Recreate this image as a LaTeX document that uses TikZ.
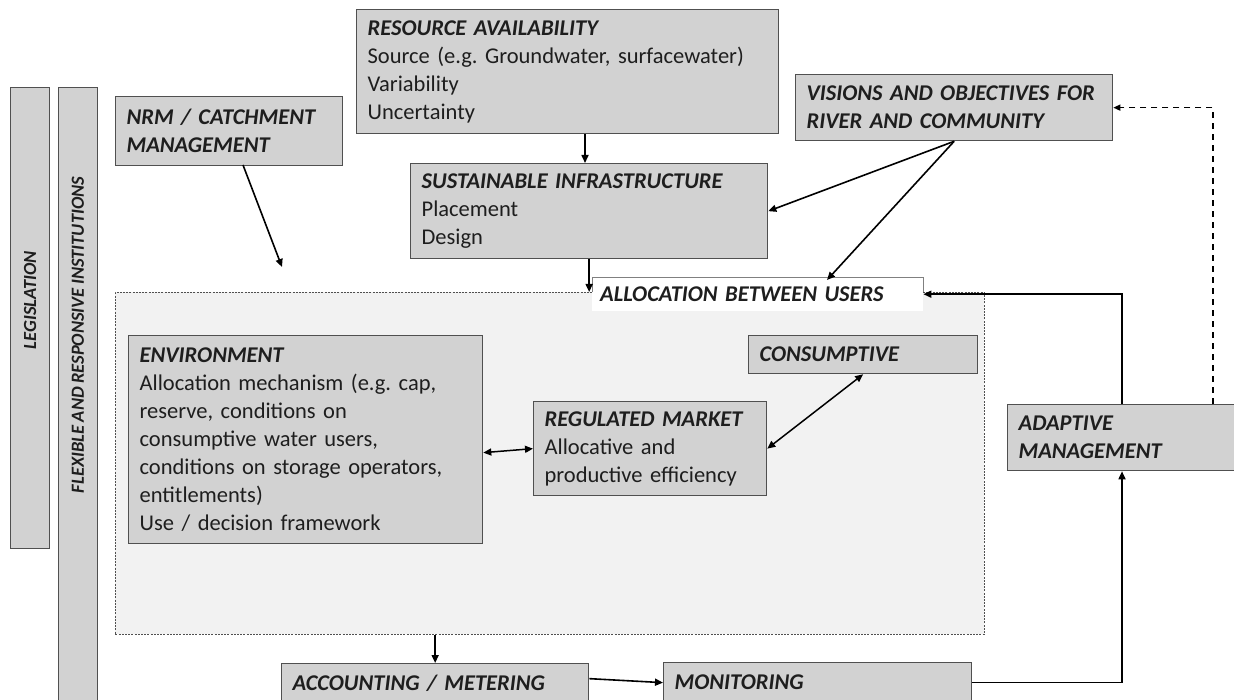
\documentclass[tikz,border=0pt]{standalone}
\usepackage{fontspec}
\setmainfont{Carlito}[WordSpace=0.8]
\usetikzlibrary{arrows.meta,calc}
\definecolor{boxfill}{HTML}{D2D2D2}
\definecolor{boxline}{HTML}{505050}
\definecolor{regfill}{HTML}{F2F2F2}
\definecolor{txt}{HTML}{1E1E1E}
\newcommand{\boxtitle}[1]{\textbf{\textit{#1}}}
\frenchspacing
\begin{document}
\begin{tikzpicture}[x=1pt,y=-1pt,
  box/.style={draw=boxline, fill=boxfill, line width=1.3pt, anchor=north west, text=txt,
    inner xsep=10pt, inner ysep=2pt, align=left, font=\fontsize{22.5}{28}\selectfont},
  bar/.style={draw=boxline, fill=boxfill, line width=1.3pt, anchor=north west, inner sep=0pt},
  bartext/.style={rotate=90, text=txt, font=\fontsize{18.5}{20}\selectfont\bfseries\itshape},
  arr/.style={line width=1.6pt, -{Triangle[length=8pt,width=7pt]}},
  dbl/.style={line width=1.5pt, {Triangle[length=8pt,width=7pt]}-{Triangle[length=8pt,width=7pt]}},
  darr/.style={line width=1.4pt, dash pattern=on 6pt off 5pt, -{Triangle[length=7pt,width=6pt]}}
]
\useasboundingbox (0,0) rectangle (1234,700);
\clip (0,0) rectangle (1234,700);
\fill[white] (0,0) rectangle (1234,700);

% side bars
\node[bar, minimum width=39pt, minimum height=461pt] (leg) at (10,87) {};
\node[bartext] (legt) at (30,300) {LEGISLATION};
\node[bar, minimum width=39pt, minimum height=620pt] (flex) at (58,87) {};
\node[bartext] (flext) at (78,335) {FLEXIBLE AND RESPONSIVE INSTITUTIONS};

% dashed region
\node[draw=boxline, fill=regfill, line width=0.8pt, dash pattern=on 2pt off 1.2pt,
  anchor=north west, minimum width=869pt, minimum height=342pt, inner sep=0pt] (region) at (115,292) {};

% label box
\node[fill=white, anchor=north west, minimum width=331pt, minimum height=34pt, text=txt,
  inner xsep=8pt, inner ysep=0pt, text width=315pt, align=left,
  font=\fontsize{22.5}{28}\selectfont] (alloc) at (592,277) {\boxtitle{ALLOCATION BETWEEN USERS}};
\draw[gray, line width=0.8pt] (alloc.west |- region.north) -- (alloc.north west) -- (alloc.north east) -- (alloc.east |- region.north);

% top boxes
\node[box, minimum width=227pt, minimum height=69pt, text width=205pt] (nrm) at (115,96)
  {\boxtitle{NRM / CATCHMENT}\\\boxtitle{MANAGEMENT}};
\node[box, minimum width=422pt, minimum height=124pt, text width=400pt] (res) at (356,9)
  {\boxtitle{RESOURCE AVAILABILITY}\\Source (e.g. Groundwater, surfacewater)\\Variability\\Uncertainty};
\node[box, minimum width=317pt, minimum height=66pt, text width=295pt] (vis) at (795,74)
  {\boxtitle{VISIONS AND OBJECTIVES FOR}\\\boxtitle{RIVER AND COMMUNITY}};
\node[box, minimum width=357pt, minimum height=95pt, text width=335pt] (sus) at (410,163)
  {\boxtitle{SUSTAINABLE INFRASTRUCTURE}\\Placement\\Design};

% inner boxes
\node[box, minimum width=354pt, minimum height=208pt, text width=332pt] (env) at (128,335)
  {\boxtitle{ENVIRONMENT}\\Allocation mechanism (e.g. cap,\\reserve, conditions on\\consumptive water users,\\conditions on storage operators,\\entitlements)\\Use / decision framework};
\node[box, minimum width=233pt, minimum height=94pt, text width=211pt] (reg) at (533,401)
  {\boxtitle{REGULATED MARKET}\\Allocative and\\productive efficiency};
\node[box, minimum width=229pt, minimum height=38pt, text width=207pt] (con) at (748,335)
  {\boxtitle{CONSUMPTIVE}};

% right and bottom boxes
\node[box, minimum width=240pt, minimum height=66pt, text width=218pt] (ada) at (1007,404)
  {\boxtitle{ADAPTIVE}\\\boxtitle{MANAGEMENT}};
\node[box, minimum width=307pt, minimum height=40pt, text width=285pt] (acc) at (281,663)
  {\boxtitle{ACCOUNTING / METERING}};
\node[box, minimum width=308pt, minimum height=40pt, text width=286pt] (mon) at (663,662)
  {\boxtitle{MONITORING}};

% helper coordinates
\coordinate (nrmout) at (243,165);
\coordinate (nrmend) at (282,267);
\coordinate (rx) at (585,0);
\coordinate (allocin) at (827,280);
\coordinate (ax) at (1122,0);
\coordinate (dx) at (1213,0);

% connectors
\draw[arr] (nrmout) -- (nrmend);
\draw[arr] (res.south -| rx) -- (sus.north -| rx);
\draw[arr] (sus.south) -- (region.north -| sus.south);
\draw[arr] (vis.south) -- (sus.east);
\draw[arr] (vis.south) -- (allocin);
\draw[arr] (ada.north -| ax) |- (alloc.east);
\draw[darr] (ada.north -| dx) |- (vis.east);
\draw[dbl] ($(env.east)+(0,13)$) -- (reg.west);
\draw[dbl] (reg.east) -- (con.south);
\draw[arr] (region.south -| acc.north) -- (acc.north);
\draw[arr] ($(acc.east)+(0,-5)$) -- (mon.west);
\draw[arr] (mon.east) -| (ada.south -| ax);
\end{tikzpicture}
\end{document}
